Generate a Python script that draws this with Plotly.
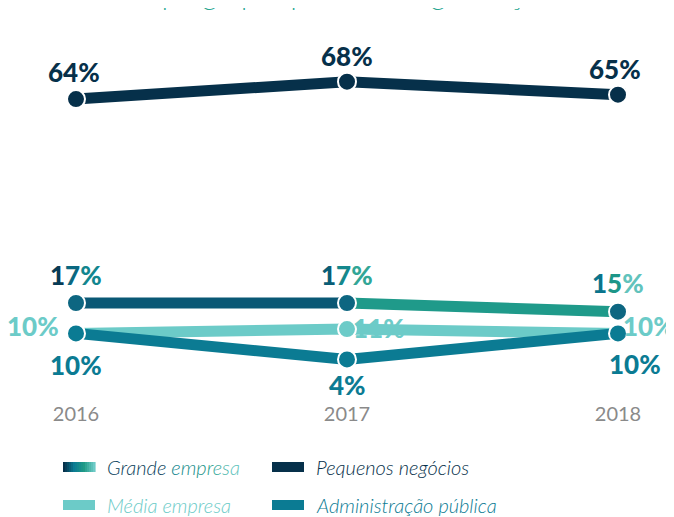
import plotly.graph_objects as go

# ---------------- data ----------------
years = [2016, 2017, 2018]
year_labels = ["2016", "2017", "2018"]
series_names = ["Grande empresa", "Pequenos negócios", "Média empresa", "Administração pública"]
grande = [17, 17, 15]
pequenos = [64, 68, 65]
media = [10, 11, 10]
admin = [10, 4, 10]
title_text = "Emprego por porte de organização"

# ---------------- style ----------------
OFF = 8                      # page body margin of the html page
W, H = 674 - OFF, 517 - OFF
ML, MR, MT, MB = 0, 0, 0, 117
PH = H - MT - MB
C_PEQ = "#06304a"
C_ADM = "#0b7b93"
C_MED = "#6ccbc8"
C_GR1 = "#0a5875"
C_GR2 = "#1f9a8a"
C_GRM = "#0d6681"
GRAD = ["#06304a", "#0b7b93", "#1f9a86", "#6dcac6"]
LABEL_FONT = "Lato"
LW = 11
MS = 18


def hex2rgb(h):
    h = h.lstrip("#")
    return tuple(int(h[i:i + 2], 16) for i in (0, 2, 4))


def grad_color(t, stops=GRAD):
    t = max(0.0, min(1.0, t))
    n = len(stops) - 1
    k = min(int(t * n), n - 1)
    f = t * n - k
    a, b = hex2rgb(stops[k]), hex2rgb(stops[k + 1])
    c = tuple(round(a[i] + (b[i] - a[i]) * f) for i in range(3))
    return "#%02x%02x%02x" % c


def grad_text(s, t0, t1):
    out = []
    n = max(len(s) - 1, 1)
    for i, ch in enumerate(s):
        col = grad_color(t0 + (t1 - t0) * i / n)
        out.append(f"<span style='color:{col}'>{ch}</span>")
    return "".join(out)


fig = go.Figure()

marker_line = dict(color="white", width=2)

# Média empresa
fig.add_trace(go.Scatter(x=years, y=media, mode="lines+markers",
                         line=dict(color=C_MED, width=LW),
                         marker=dict(size=MS, color=C_MED, line=marker_line),
                         name=series_names[2], hoverinfo="skip"))
# Administração pública
fig.add_trace(go.Scatter(x=years, y=admin, mode="lines+markers",
                         line=dict(color=C_ADM, width=LW),
                         marker=dict(size=MS, color=C_ADM, line=marker_line),
                         name=series_names[3], hoverinfo="skip"))
# Grande empresa (two segments to hint at the gradient)
fig.add_trace(go.Scatter(x=years[0:2], y=grande[0:2], mode="lines",
                         line=dict(color=C_GR1, width=LW), hoverinfo="skip"))
fig.add_trace(go.Scatter(x=years[1:3], y=grande[1:3], mode="lines",
                         line=dict(color=C_GR2, width=LW), hoverinfo="skip"))
fig.add_trace(go.Scatter(x=years, y=grande, mode="markers",
                         marker=dict(size=MS, color=C_GRM, line=marker_line),
                         name=series_names[0], hoverinfo="skip"))
# Pequenos negócios
fig.add_trace(go.Scatter(x=years, y=pequenos, mode="lines+markers",
                         line=dict(color=C_PEQ, width=LW),
                         marker=dict(size=MS, color=C_PEQ, line=marker_line),
                         name=series_names[1], hoverinfo="skip"))

# ---------------- value labels ----------------
annotations = []
lab_font = dict(family=LABEL_FONT, size=26, weight=900)

peq_off = [(-2, 27), (0, 26), (-3, 26)]
gr_off = [(0, 28), (0, 28), (0, 29)]
med_off = [(-43, 7), (32, 1), (31, 7)]
adm_off = [(0, -32), (0, -26), (17, -31)]
gr_grad = [(0.05, 0.45), (0.2, 0.75), (0.3, 0.95)]

for i, x in enumerate(years):
    annotations.append(dict(x=x, y=pequenos[i], text=f"{pequenos[i]}%", showarrow=False,
                            xshift=peq_off[i][0], yshift=peq_off[i][1],
                            font=dict(lab_font, color=C_PEQ)))
    annotations.append(dict(x=x, y=grande[i], text=grad_text(f"{grande[i]}%", *gr_grad[i]),
                            showarrow=False, xshift=gr_off[i][0], yshift=gr_off[i][1],
                            font=dict(lab_font, color=C_GRM)))
    annotations.append(dict(x=x, y=media[i], text=f"{media[i]}%", showarrow=False,
                            xshift=med_off[i][0], yshift=med_off[i][1],
                            font=dict(lab_font, color=C_MED)))
    annotations.append(dict(x=x, y=admin[i], text=f"{admin[i]}%", showarrow=False,
                            xshift=adm_off[i][0], yshift=adm_off[i][1],
                            font=dict(lab_font, color=C_ADM)))


def px_x(px):
    """screen x (reference pixels) -> paper x"""
    return (px - OFF - ML) / (W - ML - MR)


def px_y(py):
    """screen y (reference pixels) -> paper y"""
    return (MT + PH - (py - OFF)) / PH


# ---------------- title (mostly cut off at the top) ----------------
annotations.append(dict(xref="paper", yref="paper", x=px_x(337),
                        y=px_y(OFF + 5), yanchor="bottom", xanchor="center",
                        text=title_text, showarrow=False,
                        font=dict(family="Lato", size=29, weight=300, color="#27a690")))

# ---------------- manual legend ----------------
shapes = []
legend_items = [
    (series_names[0], 63, 467, None),
    (series_names[1], 272, 467, C_PEQ),
    (series_names[2], 63, 505, C_MED),
    (series_names[3], 272, 505, C_ADM),
]
for name, x0, yc, col in legend_items:
    if col is None:
        n = 16
        for k in range(n):
            xa = x0 + 32 * k / n
            xb = x0 + 32 * (k + 1) / n + 0.6
            shapes.append(dict(type="rect", xref="paper", yref="paper",
                               x0=px_x(xa), x1=px_x(xb), y0=px_y(yc + 5), y1=px_y(yc - 5),
                               fillcolor=grad_color(k / (n - 1)), line=dict(width=0)))
        txt = (f"<span style='color:#0b3f5c'>Grande</span> "
               + grad_text("empresa", 0.45, 0.95))
        tcol = C_GRM
    else:
        shapes.append(dict(type="rect", xref="paper", yref="paper",
                           x0=px_x(x0), x1=px_x(x0 + 32), y0=px_y(yc + 5), y1=px_y(yc - 5),
                           fillcolor=col, line=dict(width=0)))
        txt = name
        tcol = col
    annotations.append(dict(xref="paper", yref="paper", x=px_x(x0 + 42), y=px_y(yc),
                            xanchor="left", yanchor="middle", text=txt, showarrow=False,
                            font=dict(family="Lato", size=20, weight=300, style="italic",
                                      color=tcol)))

# ---------------- layout ----------------
# 2016 at screen x 76, 2018 at screen x 618
x_pix_per_year = (618 - 76) / 2
x_lo = 2016 - (76 - OFF - ML) / x_pix_per_year
x_hi = 2018 + (W - MR - (618 - OFF)) / x_pix_per_year
# value 0 at screen y 376.8, 4.34 px per percentage point
px_per = 4.34
y0_pix = 376.8 - OFF - MT
y_hi = y0_pix / px_per
y_lo = -(PH - y0_pix) / px_per

fig.update_layout(
    width=W, height=H,
    margin=dict(l=ML, r=MR, t=MT, b=MB),
    paper_bgcolor="white", plot_bgcolor="white",
    showlegend=False,
    xaxis=dict(range=[x_lo, x_hi], tickvals=years, ticktext=year_labels,
               showgrid=False, zeroline=False, showline=False, ticks="",
               tickfont=dict(family="Lato", size=20, color="#8a8a8a"),
               fixedrange=True),
    yaxis=dict(range=[y_lo, y_hi], visible=False, showgrid=False, zeroline=False,
               fixedrange=True),
    annotations=annotations,
    shapes=shapes,
)

fig.write_html("out.html")
